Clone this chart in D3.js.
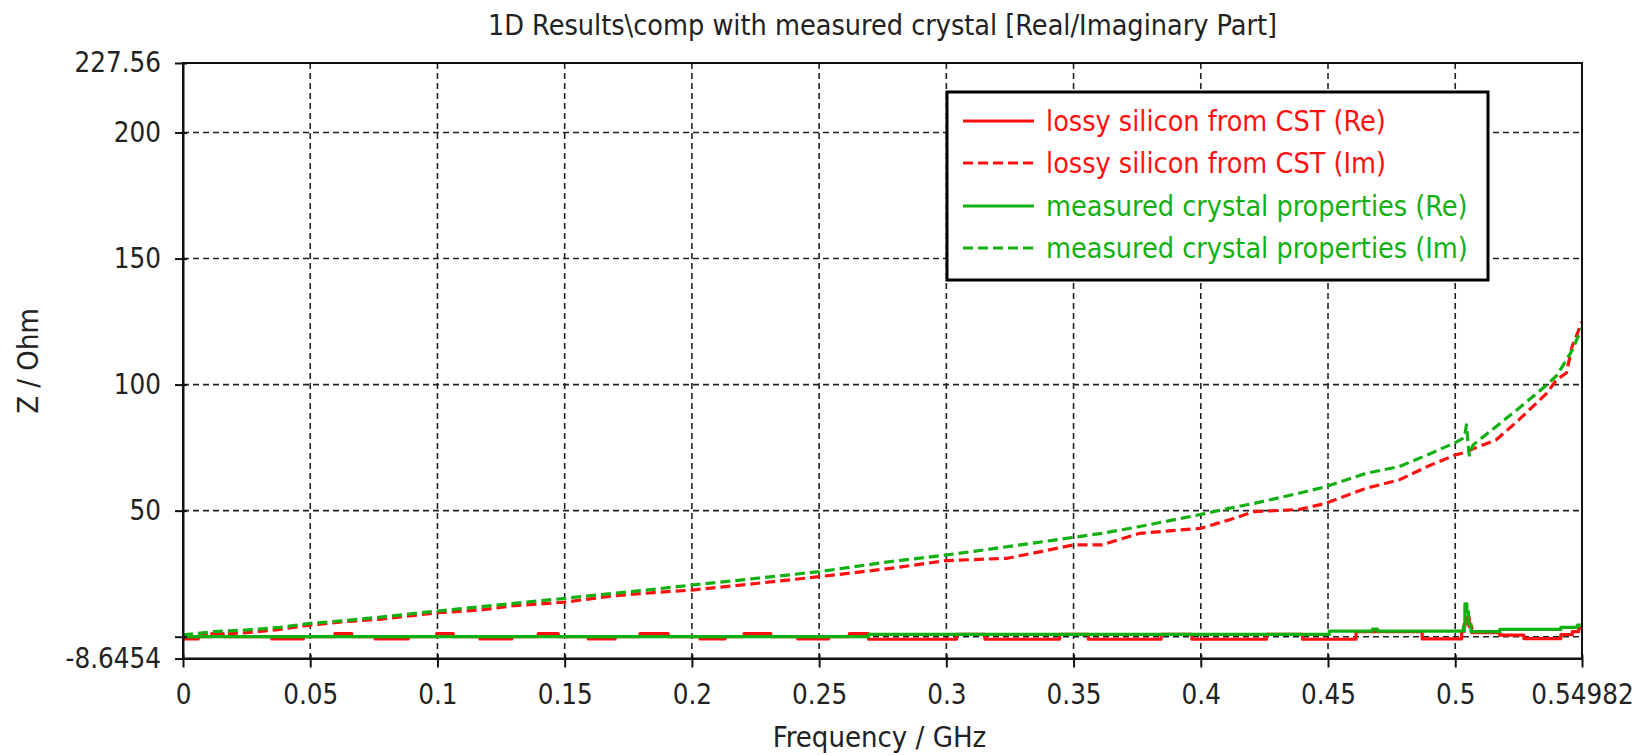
<!DOCTYPE html>
<html>
<head>
<meta charset="utf-8">
<script src="https://cdn.jsdelivr.net/npm/d3@7"></script>
<style>
  body { margin: 0; background: #fff; }
  svg { display: block; font-family: "DejaVu Sans Condensed", "DejaVu Sans", sans-serif; font-stretch: condensed; }
  .tick text { fill: #222; }
</style>
</head>
<body>
<svg id="chart"></svg>
<script>
// frequency (GHz) grid for the imaginary parts
const freqIm = [0, 0.012, 0.025, 0.038, 0.05, 0.064, 0.077, 0.1, 0.117, 0.13,
  0.15, 0.169, 0.185, 0.2, 0.226, 0.25, 0.278, 0.3, 0.324, 0.35,
  0.361, 0.376, 0.4, 0.411, 0.421, 0.439, 0.449, 0.465, 0.478, 0.489,
  0.5, 0.5036, 0.5044, 0.5055, 0.507, 0.516, 0.525, 0.536, 0.5398, 0.5437,
  0.5459, 0.5477, 0.54982];
const imLossy = [-0.3, 0.8, 1.6, 2.9, 4.6, 6.0, 6.9, 9.5, 10.6, 12.3,
  13.7, 16.2, 17.5, 18.5, 21.2, 23.8, 27.1, 30.2, 31.1, 36.4,
  36.4, 41.0, 43.0, 46.3, 49.6, 50.5, 52.9, 58.9, 62.2, 67.5,
  72.1, 73.0, 73.3, 73.8, 74.5, 78.0, 86.0, 96.6, 101.9, 104.6,
  115.0, 119.5, 125.0];
const imMeasured = [0.7, 2.0, 2.7, 3.7, 5.3, 6.4, 7.7, 10.2, 11.9, 13.2,
  15.2, 17.2, 18.8, 20.5, 23.2, 25.8, 29.8, 32.4, 35.7, 39.4,
  41.0, 43.7, 48.5, 50.9, 52.9, 57.0, 59.5, 64.8, 67.5, 72.1,
  77.0, 79.0, 84.0, 72.0, 76.0, 83.3, 90.6, 99.9, 103.5, 109.8,
  113.5, 117.7, 122.4];

// real parts, stepwise
const freqReLossy = [0, 0.006, 0.0113, 0.0158, 0.0349, 0.0473, 0.0597, 0.0663, 0.0755, 0.0885,
  0.0997, 0.1062, 0.1167, 0.1292, 0.1396, 0.1475, 0.1593, 0.1698, 0.1796, 0.1907,
  0.2032, 0.213, 0.2205, 0.231, 0.2416, 0.2537, 0.2619, 0.2694, 0.304, 0.3152,
  0.3445, 0.3558, 0.3844, 0.3965, 0.4258, 0.44, 0.461, 0.487, 0.5025, 0.5035,
  0.5045, 0.5055, 0.5065, 0.5175, 0.527, 0.5415, 0.546, 0.5485, 0.54982];
const reLossy = [-0.9, 0, 1.2, 0, -0.9, 0, 1.2, 0, -0.9, 0,
  1.2, 0, -0.9, 0, 1.2, 0, -0.9, 0, 1.2, 0,
  -0.9, 0, 1.2, 0, -0.9, 0, 1.2, -1.0, 0.9, -1.0,
  0.9, -1.0, 0.9, -1.0, 0.9, -1.0, 2.0, -0.9, 2.0, 5.0,
  7.7, 4.0, 1.6, 0.6, -0.8, 0.8, 2.0, 3.3, 3.3];
const freqReMeasured = [0, 0.2694, 0.4505, 0.4675, 0.4695, 0.5032, 0.5038, 0.5046, 0.5052, 0.5062,
  0.5175, 0.5415, 0.548, 0.54982];
const reMeasured = [0, 0.9, 2.2, 3.0, 2.2, 4.0, 13.0, 10.0, 5.0, 2.0,
  2.9, 3.7, 4.6, 4.6];

const xTicks = [0, 0.05, 0.1, 0.15, 0.2, 0.25, 0.3, 0.35, 0.4, 0.45, 0.5, 0.54982];
const xGrid = [0.05, 0.1, 0.15, 0.2, 0.25, 0.3, 0.35, 0.4, 0.45, 0.5];
const yTicks = [-8.6454, 0, 50, 100, 150, 200, 227.56];
const yGrid = [0, 50, 100, 150, 200];

const legendNames = [
  'lossy silicon from CST (Re)',
  'lossy silicon from CST (Im)',
  'measured crystal properties (Re)',
  'measured crystal properties (Im)'
];

const red = '#ff1010';
const green = '#12b012';

const width = 1648, height = 755;
const plotLeft = 183, plotRight = 1582, plotTop = 63, plotBottom = 658.5;

const svg = d3.select('#chart').attr('width', width).attr('height', height);
svg.append('rect').attr('width', width).attr('height', height).attr('fill', '#fff');

const x = d3.scaleLinear().domain([0, 0.54982]).range([plotLeft, plotRight]);
const y = d3.scaleLinear().domain([-8.6454, 227.56]).range([plotBottom, plotTop]);

// title
svg.append('text')
  .attr('x', (plotLeft + plotRight) / 2)
  .attr('y', 35)
  .attr('text-anchor', 'middle')
  .attr('font-size', 28.5)
  .attr('fill', '#222')
  .text('1D Results\\comp with measured crystal [Real/Imaginary Part]');

// grid
const grid = svg.append('g')
  .attr('stroke', '#222')
  .attr('stroke-width', 1.6)
  .attr('stroke-dasharray', '6,4');

grid.selectAll('.gx').data(xGrid).enter().append('line')
  .attr('x1', d => x(d)).attr('x2', d => x(d))
  .attr('y1', plotTop).attr('y2', plotBottom);

grid.selectAll('.gy').data(yGrid).enter().append('line')
  .attr('x1', plotLeft).attr('x2', plotRight)
  .attr('y1', d => y(d)).attr('y2', d => y(d));

// curves
svg.append('clipPath').attr('id', 'clip')
  .append('rect').attr('x', plotLeft).attr('y', plotTop)
  .attr('width', plotRight - plotLeft).attr('height', plotBottom - plotTop);

const plot = svg.append('g').attr('clip-path', 'url(#clip)');

const stepLine = d3.line().curve(d3.curveStepAfter).x(d => x(d[0])).y(d => y(d[1]));
const smoothLine = d3.line().x(d => x(d[0])).y(d => y(d[1]));

const series = [
  { f: freqReLossy, v: reLossy, color: red, dash: null, gen: stepLine },
  { f: freqIm, v: imLossy, color: red, dash: '10,5', gen: smoothLine },
  { f: freqReMeasured, v: reMeasured, color: green, dash: null, gen: stepLine },
  { f: freqIm, v: imMeasured, color: green, dash: '10,5', gen: smoothLine }
];

series.forEach(s => {
  plot.append('path')
    .datum(s.f.map((f, i) => [f, s.v[i]]))
    .attr('fill', 'none')
    .attr('stroke', s.color)
    .attr('stroke-width', 3.2)
    .attr('stroke-dasharray', s.dash)
    .attr('stroke-linejoin', 'round')
    .attr('d', s.gen);
});

// frame
svg.append('rect')
  .attr('x', plotLeft).attr('y', plotTop)
  .attr('width', plotRight - plotLeft).attr('height', plotBottom - plotTop)
  .attr('fill', 'none')
  .attr('stroke', '#111')
  .attr('stroke-width', 2);

// axes
const xAxis = svg.append('g')
  .attr('transform', `translate(0,${plotBottom})`)
  .call(d3.axisBottom(x).tickValues(xTicks).tickFormat(d => String(d))
    .tickSizeInner(9).tickSizeOuter(0).tickPadding(17));
xAxis.select('.domain').attr('stroke', '#111').attr('stroke-width', 2);
xAxis.selectAll('.tick line').attr('y1', -4).attr('stroke', '#111').attr('stroke-width', 2);
xAxis.selectAll('.tick text').attr('font-size', 27.5);
xAxis.attr('font-family', null).attr('font-size', null);

const yAxis = svg.append('g')
  .attr('transform', `translate(${plotLeft},0)`)
  .call(d3.axisLeft(y).tickValues(yTicks).tickFormat(d => d === 0 ? '' : String(d))
    .tickSizeInner(8).tickSizeOuter(0).tickPadding(14));
yAxis.select('.domain').attr('stroke', '#111').attr('stroke-width', 2);
yAxis.selectAll('.tick line').attr('x1', 4).attr('stroke', '#111').attr('stroke-width', 2);
yAxis.selectAll('.tick text').attr('font-size', 27.5);
yAxis.attr('font-family', null).attr('font-size', null);

// axis labels
svg.append('text')
  .attr('x', (plotLeft + plotRight) / 2 - 3)
  .attr('y', 747)
  .attr('text-anchor', 'middle')
  .attr('font-size', 29)
  .attr('fill', '#222')
  .text('Frequency / GHz');

svg.append('text')
  .attr('transform', 'translate(38,361) rotate(-90)')
  .attr('text-anchor', 'middle')
  .attr('font-size', 29)
  .attr('fill', '#222')
  .text('Z / Ohm');

// legend
const legend = svg.append('g');
legend.append('rect')
  .attr('x', 947).attr('y', 92)
  .attr('width', 541).attr('height', 188)
  .attr('fill', '#fff')
  .attr('stroke', '#000')
  .attr('stroke-width', 3);

const rowY = [121, 163, 206, 248];
legendNames.forEach((name, i) => {
  const s = series[i];
  legend.append('line')
    .attr('x1', 963).attr('x2', 1034)
    .attr('y1', rowY[i]).attr('y2', rowY[i])
    .attr('stroke', s.color)
    .attr('stroke-width', 3.2)
    .attr('stroke-dasharray', s.dash);
  legend.append('text')
    .attr('x', 1046).attr('y', rowY[i] + 10)
    .attr('font-size', 28.5)
    .attr('fill', s.color)
    .text(name);
});
</script>
</body>
</html>
